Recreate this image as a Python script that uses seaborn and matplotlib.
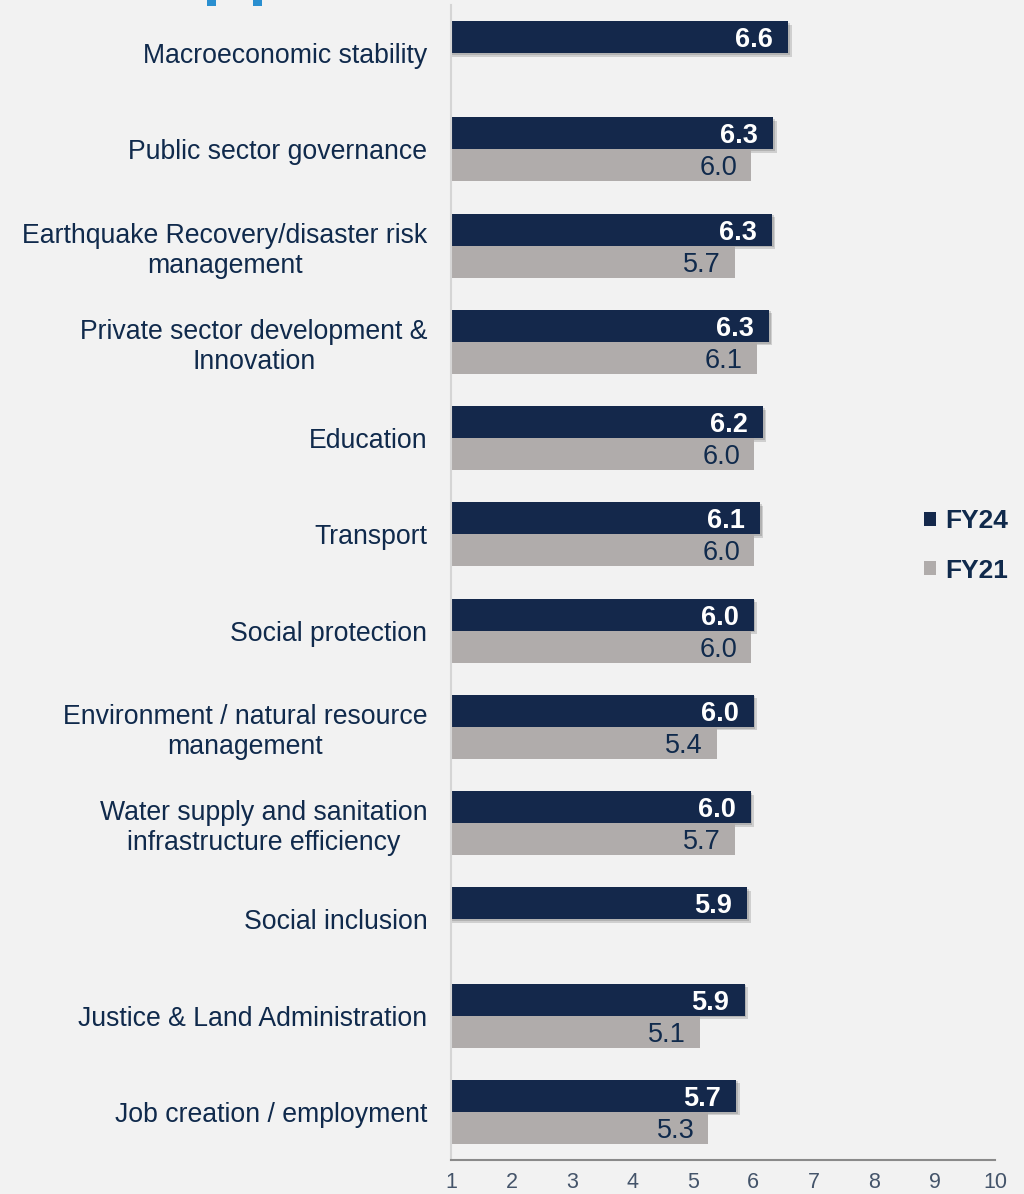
import numpy as np
import pandas as pd
import seaborn as sns
import matplotlib.pyplot as plt
import matplotlib.patheffects as pe
from matplotlib.patches import Patch, Rectangle

categories = [
    "Macroeconomic stability",
    "Public sector governance",
    "Earthquake Recovery/disaster risk\nmanagement",
    "Private sector development &\nInnovation",
    "Education",
    "Transport",
    "Social protection",
    "Environment / natural resource\nmanagement",
    "Water supply and sanitation\ninfrastructure efficiency",
    "Social inclusion",
    "Justice & Land Administration",
    "Job creation / employment",
]
fy24 = [6.58, 6.33, 6.31, 6.26, 6.16, 6.11, 6.01, 6.01, 5.96, 5.90, 5.86, 5.72]
fy21 = [np.nan, 5.96, 5.70, 6.06, 6.01, 6.01, 5.96, 5.40, 5.70, np.nan, 5.12, 5.26]
series = ["FY24", "FY21"]
xticks = list(range(1, 11))

NAVY = "#14284b"
GRAY = "#b0acab"
BG = "#f2f2f2"
TEXT = "#102a4c"

df = pd.DataFrame({"category": categories * 2,
                   "series": ["FY24"] * len(categories) + ["FY21"] * len(categories),
                   "score": fy24 + fy21})

sns.set_theme(style="white")
plt.rcParams["font.family"] = ["Liberation Sans", "DejaVu Sans"]

fig = plt.figure(figsize=(10.24, 11.94), dpi=100, facecolor=BG)
ax = fig.add_axes([451 / 1024, 1 - 1160 / 1194, 544 / 1024, 1155 / 1194])
ax.set_facecolor(BG)

sns.barplot(data=df, y="category", x="score", hue="series", hue_order=series,
            palette=[NAVY, GRAY], orient="h", width=2 / 3, errorbar=None,
            linewidth=0, saturation=1, ax=ax, legend=False)

ax.set_xlim(1, 10)
ax.set_ylim(len(categories) - 0.5, -0.5)

# soft shadow on the FY24 bars + value labels
for i, cont in enumerate(ax.containers):
    for bar in cont:
        w = bar.get_width()
        if np.isnan(w):
            continue
        yc = bar.get_y() + bar.get_height() / 2
        if i == 0:
            bar.set_path_effects([pe.SimplePatchShadow(offset=(2.5, -2.5), shadow_rgbFace="#333333", alpha=0.18),
                                  pe.SimplePatchShadow(offset=(1.2, -1.2), shadow_rgbFace="#333333", alpha=0.18),
                                  pe.Normal()])
            ax.annotate(f"{w:.1f}", (w, yc), xytext=(-11, 0), textcoords="offset points",
                        ha="right", va="center_baseline", fontsize=19.5, fontweight="bold", color="white")
        else:
            ax.annotate(f"{w:.1f}", (w, yc), xytext=(-10, 0), textcoords="offset points",
                        ha="right", va="center_baseline", fontsize=19.5, color=TEXT)

ax.set_xlabel("")
ax.set_ylabel("")
ax.set_xticks(xticks)
ax.set_xticklabels([str(t) for t in xticks])
ax.tick_params(axis="x", direction="in", length=5, width=1.2, color="#8a8a8a",
               labelsize=15.5, labelcolor="#44546a", pad=9)
ax.tick_params(axis="y", which="major", length=0, pad=17, labelsize=19.2, labelcolor=TEXT)
ax.set_yticks(np.arange(-0.5, len(categories), 1), minor=True)
ax.tick_params(axis="y", which="minor", direction="out", length=6, width=1.2, color="#d5d5d5")
for lab in ax.get_yticklabels():
    lab.set_multialignment("center")

for s in ["top", "right"]:
    ax.spines[s].set_visible(False)
ax.spines["left"].set_color("#d5d5d5")
ax.spines["left"].set_linewidth(1.5)
ax.spines["bottom"].set_color("#8a8a8a")
ax.spines["bottom"].set_linewidth(1.5)

handles = [Patch(facecolor=NAVY, edgecolor="none"), Patch(facecolor=GRAY, edgecolor="none")]
leg = fig.legend(handles, series, loc="center left", bbox_to_anchor=(900 / 1024, 1 - 546 / 1194),
                 frameon=False, handlelength=0.45, handleheight=0.45, handletextpad=0.35,
                 labelspacing=0.95, prop={"size": 19, "weight": "bold"}, labelcolor=TEXT)

# remnants of the cropped title at the top edge
for x0 in (207, 253):
    fig.patches.append(Rectangle((x0 / 1024, 1 - 6 / 1194), 9 / 1024, 6 / 1194,
                                 transform=fig.transFigure, facecolor="#2a8fd0", edgecolor="none"))

fig.savefig("out.png", dpi=100, facecolor=BG)
